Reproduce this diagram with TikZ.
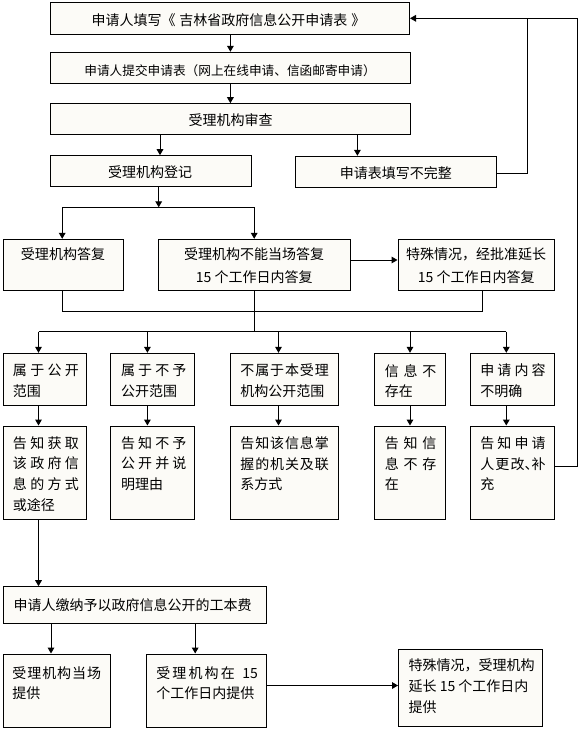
\documentclass[tikz,border=0pt]{standalone}
\usepackage{fontspec}
\setmainfont{Noto Sans CJK SC}
\usetikzlibrary{arrows.meta,fit}
\definecolor{boxfill}{RGB}{252,251,247}
\newcommand\fsz{\fontsize{10.5pt}{15.6pt}\selectfont}
\newcommand\jw[2]{\makebox[\dimexpr #1pt*3/4\relax][s]{#2}}
\begin{document}
\begin{tikzpicture}[x=0.75pt,y=-0.75pt,
  box/.style={draw=black,line width=0.75pt,fill=boxfill,inner sep=0pt},
  txt/.style={inner sep=0pt,align=left,anchor=west,font=\fsz},
  ctxt/.style={inner sep=0pt,align=center,anchor=center,font=\fsz},
  ctwo/.style={inner sep=0pt,align=center,anchor=center,font={\fontsize{10.5pt}{17.25pt}\selectfont}},
  arr/.style={draw=black,line width=0.75pt,-{Triangle[length=4.5pt,width=5pt]}},
  ln/.style={draw=black,line width=0.75pt}]
\useasboundingbox (0,0) rectangle (581,731);

% top boxes
\node[box,fit={(50,3)(409.5,35)}] (b1) {};
\node[box,fit={(50,52.3)(410,83.5)}] (b2) {};
\node[box,fit={(50,103.7)(410,134.3)}] (b3) {};
\node[box,fit={(50.4,155.7)(251.1,186)}] (b4) {};
\node[box,fit={(295.2,156.3)(496.5,187.3)}] (b5) {};
\node[ctxt] (b1t) at (228.5,20) {申请人填写《\hspace{3pt}吉林省政府信息公开申请表\hspace{3pt}》};
\node[ctxt,font={\fontsize{9.5pt}{12pt}\selectfont}] (b2t) at (230,70.5) {申请人提交申请表（网上在线申请、信函邮寄申请）};
\node[ctxt] (b3t) at (230.5,120) {受理机构审查};
\node[ctxt] (b4t) at (150,172.2) {受理机构登记};
\node[ctxt] (b5t) at (395.8,173.2) {申请表填写不完整};

% row c
\node[box,fit={(3,239.3)(123,290)}] (c1) {};
\node[box,fit={(158.5,239.3)(350,290)}] (c2) {};
\node[box,fit={(398,239.3)(554.4,290)}] (c3) {};
\node[ctxt] (c1t) at (63,254.5) {受理机构答复};
\node[ctwo] (c2t) at (254.2,266) {受理机构不能当场答复\\15 个工作日内答复};
\node[ctwo] (c3t) at (476.2,266) {特殊情况，经批准延长\\15 个工作日内答复};

% row p
\node[box,fit={(3,353.3)(86.7,405)}] (p1) {};
\node[box,fit={(110.4,353.3)(194.4,405)}] (p2) {};
\node[box,fit={(230.4,353.3)(338.1,405)}] (p3) {};
\node[box,fit={(374,353.3)(445.6,405)}] (p4) {};
\node[box,fit={(470.4,353.3)(554.4,405)}] (p5) {};
\node[txt] (p1t) at (12.7,381) {\jw{66}{属\hfill 于\hfill 公\hfill 开}\\范围};
\node[txt] (p2t) at (120.9,381) {\jw{65.2}{属\hfill 于\hfill 不\hfill 予}\\公开范围};
\node[txt] (p3t) at (240.1,381) {\jw{88.5}{不\hfill 属\hfill 于\hfill 本\hfill 受\hfill 理}\\机构公开范围};
\node[txt] (p4t) at (384.6,381) {\jw{51.5}{信\hfill 息\hfill 不}\\存在};
\node[txt] (p5t) at (480.1,381) {\jw{65.2}{申\hfill 请\hfill 内\hfill 容}\\不明确};

% row q
\node[box,fit={(3,426)(86.7,519.3)}] (q1) {};
\node[box,fit={(110.4,426)(194.4,519.3)}] (q2) {};
\node[box,fit={(230.4,426)(338.1,519.3)}] (q3) {};
\node[box,fit={(374,426)(445.6,519.3)}] (q4) {};
\node[box,fit={(470.4,426)(554.4,519.3)}] (q5) {};
\node[txt] (q1t) at (12.7,474) {\jw{66}{告\hfill 知\hfill 获\hfill 取}\\\jw{66}{该\hfill 政\hfill 府\hfill 信}\\\jw{66}{息\hfill 的\hfill 方\hfill 式}\\或途径};
\node[txt] (q2t) at (120.9,463.7) {\jw{65.2}{告\hfill 知\hfill 不\hfill 予}\\\jw{65.2}{公\hfill 开\hfill 并\hfill 说}\\明理由};
\node[txt] (q3t) at (240.1,463.7) {\jw{88.5}{告\hfill 知\hfill 该\hfill 信\hfill 息\hfill 掌}\\\jw{88.5}{握\hfill 的\hfill 机\hfill 关\hfill 及\hfill 联}\\系方式};
\node[txt] (q4t) at (384.6,463.7) {\jw{51.5}{告\hfill 知\hfill 信}\\\jw{51.5}{息\hfill 不\hfill 存}\\在};
\node[txt] (q5t) at (480.1,463.7) {\jw{65.2}{告\hfill 知\hfill 申\hfill 请}\\\jw{65.2}{人\hfill 更\hfill 改\makebox[0.5em][l]{、}补}\\充};

% bottom
\node[box,fit={(3,586.7)(266.5,623.3)}] (f) {};
\node[txt] (ft) at (13.4,605.3) {申请人缴纳予以政府信息公开的工本费};
\node[box,fit={(3,654)(110,727)}] (g) {};
\node[box,fit={(146.7,654)(266.5,727)}] (h) {};
\node[box,fit={(398.5,649.3)(542.3,726.7)}] (i) {};
\node[txt] (gt) at (12.1,683.2) {\jw{88.8}{受\hfill 理\hfill 机\hfill 构\hfill 当\hfill 场}\\提供};
\node[txt] (ht) at (156.1,683.2) {\jw{101.5}{受\hfill 理\hfill 机\hfill 构\hfill 在\hfill\hspace{4pt}15}\\个工作日内提供};
\node[txt] (it) at (408.4,686.4) {特殊情况，受理机构\\延长 15 个工作日内\\提供};

% coordinates
\coordinate (k1) at (230.4,0);
\coordinate (k2) at (160,0);
\coordinate (k3) at (357.4,0);
\coordinate (J1) at (158.7,207.3);
\coordinate (L1) at (62.2,207.3);
\coordinate (R1) at (254.2,207.3);
\coordinate (Y1) at (0,260);
\coordinate (M1) at (62.2,311);
\coordinate (M3) at (482.2,311);
\coordinate (N1) at (254.2,331.7);
\coordinate (H1) at (38.5,331.7);
\coordinate (H2) at (147.4,331.7);
\coordinate (H3) at (278.5,331.7);
\coordinate (H4) at (410,331.7);
\coordinate (H5) at (506.3,331.7);
\coordinate (K1) at (51,0);
\coordinate (K2) at (195.2,0);
\coordinate (Y2) at (0,685.5);
\coordinate (F1) at (527.5,173.3);
\coordinate (F2) at (527.5,18.3);
\coordinate (G1) at (577.3,466.7);
\coordinate (G2) at (577.3,18.3);

% connectors
\draw[arr] (b1.south -| k1) -- (b2.north -| k1);
\draw[arr] (b2.south -| k1) -- (b3.north -| k1);
\draw[arr] (b3.south -| k2) -- (b4.north -| k2);
\draw[arr] (b3.south -| k3) -- (b5.north -| k3);
\draw[arr] (b4.south -| J1) -- (J1);
\draw[ln] (L1) -- (R1);
\draw[arr] (L1) -- (c1.north -| L1);
\draw[arr] (R1) -- (c2.north -| R1);
\draw[arr] (c2.east |- Y1) -- (c3.west |- Y1);
\draw[ln] (c1.south -| M1) -- (M1) -- (M3) -- (c3.south -| M3);
\draw[ln] (c2.south -| N1) -- (N1);
\draw[ln] (H1) -- (H5);
\draw[arr] (H1) -- (p1.north -| H1);
\draw[arr] (H2) -- (p2.north -| H2);
\draw[arr] (H3) -- (p3.north -| H3);
\draw[arr] (H4) -- (p4.north -| H4);
\draw[arr] (H5) -- (p5.north -| H5);
\draw[arr] (p1.south -| H1) -- (q1.north -| H1);
\draw[arr] (p2.south -| H2) -- (q2.north -| H2);
\draw[arr] (p3.south -| H3) -- (q3.north -| H3);
\draw[arr] (p4.south -| H4) -- (q4.north -| H4);
\draw[arr] (p5.south -| H5) -- (q5.north -| H5);
\draw[arr] (q1.south -| H1) -- (f.north -| H1);
\draw[arr] (f.south -| K1) -- (g.north -| K1);
\draw[arr] (f.south -| K2) -- (h.north -| K2);
\draw[arr] (h.east |- Y2) -- (i.west |- Y2);
\draw[ln] (b5.east |- F1) -- (F1) -- (F2);
\draw[arr] (q5.east |- G1) -- (G1) -- (G2) -- (b1.east |- G2);
\end{tikzpicture}
\end{document}
